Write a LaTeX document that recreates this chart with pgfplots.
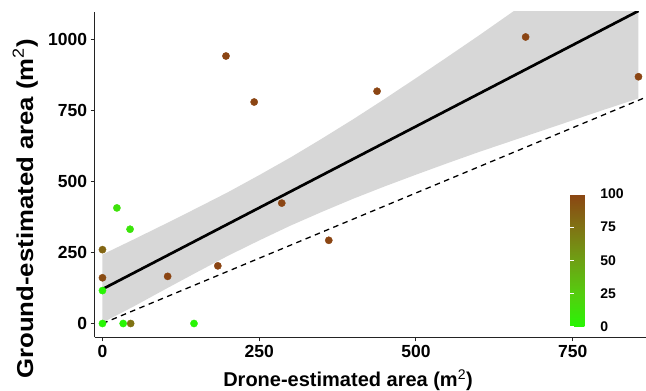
\documentclass[border=0pt]{standalone}
\usepackage{fontspec}
\setmainfont{Liberation Sans}
\usepackage{pgfplots}
\pgfplotsset{compat=1.18}
\definecolor{bandgray}{RGB}{215,215,215}
\definecolor{axgray}{RGB}{35,35,35}
\begin{document}
\begin{tikzpicture}
\begin{axis}[
  scale only axis, width=551.3pt, height=325.3pt,
  xmin=-12.4, xmax=867, ymin=-48.6, ymax=1097,
  axis x line*=bottom, axis y line*=left,
  axis line style={-, axgray, line width=1.1pt},
  xtick={0,250,500,750}, ytick={0,250,500,750,1000},
  tick align=outside, major tick length=4pt,
  tick style={axgray, line width=1.1pt},
  /pgf/number format/assume math mode=true,
  /pgf/number format/1000 sep={},
  ticklabel style={font=\bfseries\fontsize{17.5}{18}\selectfont, text=black},
  xlabel={Drone-estimated area (m\textsuperscript{\mdseries 2})},
  ylabel={Ground-estimated area (m\textsuperscript{\mdseries 2})},
  xlabel style={font=\bfseries\fontsize{20}{24}\selectfont, at={(axis description cs:0.4595,0)}, anchor=base, yshift=-49.4pt, inner sep=0pt},
  ylabel style={font=\bfseries\fontsize{23}{26}\selectfont, at={(axis description cs:-0.1119,0.395)}, anchor=base, inner sep=0pt, xscale=1.12},
  colormap={ggmap}{rgb255(0)=(40,245,5) rgb255(25)=(85,205,15) rgb255(50)=(110,160,20) rgb255(75)=(128,115,20) rgb255(100)=(139,69,19)},
  point meta min=0, point meta max=100,
  colorbar,
  colorbar style={
    at={(parent axis.south west)}, anchor=south west, xshift=467pt, yshift=10.6pt,
    scale only axis, width=26.6pt, height=132.7pt,
    axis line style={draw=none},
    ymin=0, ymax=100,
    ytick={0,25,50,75,100},
    yticklabel pos=right, ytick pos=both,
    tick align=inside, major tick length=4pt,
    major tick style={white, line width=0.8pt},
    /pgf/number format/assume math mode=true,
    yticklabel style={font=\bfseries\fontsize{14}{14}\selectfont, text=black},
  },
]
% confidence band
\addplot[draw=none, fill=bandgray, forget plot] coordinates {
 (0,243) (50,296.3) (100,350.6) (150,405.9) (200,462.2) (250,522.5) (300,584.8) (350,651.1) (400,719.4) (450,790.7) (500,864) (550,938.3) (600,1013.6) (650,1090.9) (700,1168.2) (750,1245.5) (800,1322.8) (855,1408.8)
 (855,792.8) (800,752.8) (750,715.5) (700,678.2) (650,640.9) (600,603.6) (550,564.3) (500,524) (450,482.7) (400,439.4) (350,393.1) (300,344.8) (250,292.5) (200,238.2) (150,179.9) (100,120.6) (50,60.3) (0,3)
} -- cycle;
% reference line
\addplot[black, line width=1.3pt, dash pattern=on 5.5pt off 4.5pt, forget plot] coordinates {(0,0) (867,797)};
% regression line
\addplot[black, line width=2.7pt, forget plot] coordinates {(0,121) (855,1100.8)};
% points
\addplot[scatter, only marks, mark=*, mark size=3.6pt,
  scatter/use mapped color={draw=mapped color, fill=mapped color},
  point meta=explicit, forget plot] table[meta=m] {
x y m
197 942 100
242 780 100
438 818 100
286 424 100
361 293 100
675 1009 100
855 869 100
23 407 12
44 332 10
0 260 82
0 161 96
0 116 0
0 0 0
33 0 0
45 0 75
146 0 0
104 166 100
184 203 100
};
\end{axis}
\pgfresetboundingbox
\path (current axis.south west) ++(-94.7pt,-53.7pt) rectangle ++(646pt,391pt);
\end{tikzpicture}
\end{document}
